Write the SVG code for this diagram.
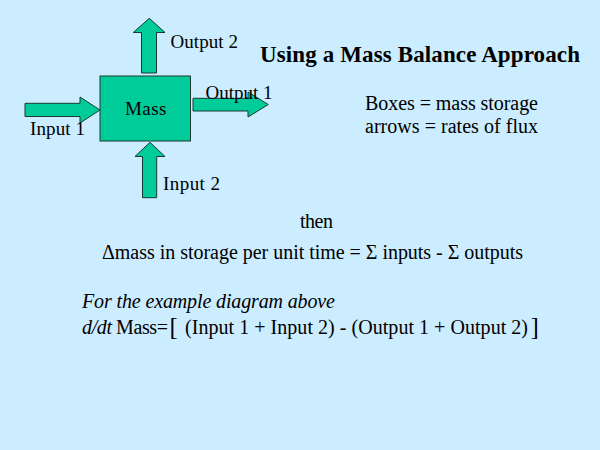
<svg xmlns="http://www.w3.org/2000/svg" width="600" height="450" viewBox="0 0 600 450">
  <style>
    .lbl { font-size: 19px; }
    .body { font-size: 20px; }
    .it { font-size: 20px; font-style: italic; }
    .title { font-size: 23px; font-weight: bold; }
    .br { font-size: 25px; }
    .shape { fill: #00CC99; stroke: #1a3a30; stroke-width: 1; }
  </style>
  <rect x="0" y="0" width="600" height="450" fill="#CCECFF"/>
  <g id="connectors">
    <polygon id="output2-arrow" class="shape" points="141.5,73 156.5,73 156.5,32.5 165,32.5 149.3,18.3 133.3,32.5 141.5,32.5"/>
    <polygon id="output1-arrow" class="shape" points="193,98.3 248,98.3 248,92 268.3,104.5 248,117 248,111 193,111"/>
    <polygon id="input1-arrow" class="shape" points="25,103.3 80,103.3 80,97 100,110 80,123 80,116.5 25,116.5"/>
    <polygon id="input2-arrow" class="shape" points="142.5,197.7 156.7,197.7 156.7,156.5 165,156.5 150,142.3 135,156.5 142.5,156.5"/>
  </g>
  <g id="mass">
    <rect class="shape" x="100" y="76" width="90.5" height="65"/>
    <text class="lbl" font-family="Liberation Serif" x="125" y="115" textLength="41.5">Mass</text>
  </g>
  <g id="labels">
    <text class="lbl" font-family="Liberation Serif" x="170.5" y="48" textLength="67.5">Output 2</text>
    <text class="lbl" font-family="Liberation Serif" x="205.5" y="99" textLength="67">Output 1</text>
    <text class="lbl" font-family="Liberation Serif" x="30" y="135" textLength="55">Input 1</text>
    <text class="lbl" font-family="Liberation Serif" x="163" y="190" textLength="57">Input 2</text>
  </g>
  <g id="title">
    <text class="title" font-family="Liberation Serif" x="260" y="61.5" textLength="320">Using a Mass Balance Approach</text>
  </g>
  <g id="legend">
    <text class="body" font-family="Liberation Serif" x="365" y="110" textLength="173">Boxes = mass storage</text>
    <text class="body" font-family="Liberation Serif" x="365" y="132.5" textLength="173">arrows = rates of flux</text>
  </g>
  <g id="equation">
    <text class="body" font-family="Liberation Serif" x="300" y="227.5" textLength="33">then</text>
    <text class="body" font-family="Liberation Serif" x="102" y="258.5" textLength="421">Δmass in storage per unit time = Σ inputs - Σ outputs</text>
    <text class="it" font-family="Liberation Serif" x="82" y="307.5" textLength="253">For the example diagram above</text>
    <text class="it" font-family="Liberation Serif" x="82" y="333.5" textLength="30">d/dt</text>
    <text class="body" font-family="Liberation Serif" x="116" y="333.5" textLength="52">Mass=</text>
    <text class="br" font-family="Liberation Serif" x="169.5" y="335">[</text>
    <text class="body" font-family="Liberation Serif" x="185" y="333.5" textLength="343">(Input 1 + Input 2) - (Output 1 + Output 2)</text>
    <text class="br" font-family="Liberation Serif" x="530.5" y="335">]</text>
  </g>
</svg>
